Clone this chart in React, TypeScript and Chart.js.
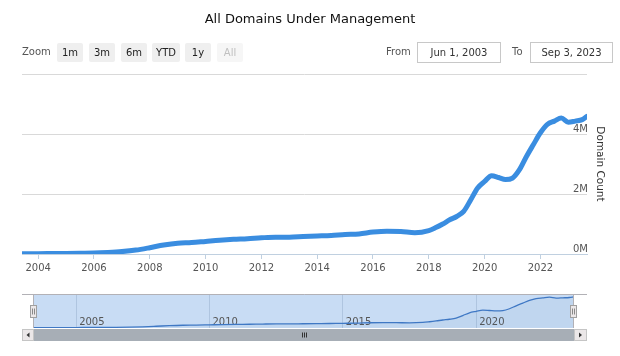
import React, { useEffect, useRef } from 'react';
import { Chart, registerables } from 'chart.js';

Chart.register(...registerables);

// ---------- data ----------
const chartTitle = 'All Domains Under Management';
const yAxisTitle = 'Domain Count';
const zoomLabel = 'Zoom';
const zoomButtons = ['1m', '3m', '6m', 'YTD', '1y', 'All'];
const fromLabel = 'From';
const toLabel = 'To';
const fromDate = 'Jun 1, 2003';
const toDate = 'Sep 3, 2023';

const xMinYear = 2003.42; // Jun 1, 2003
const xMaxYear = 2023.67; // Sep 3, 2023

const years = [
  2003.42, 2004, 2004.5, 2005, 2005.5, 2006, 2006.5, 2007, 2007.5, 2008, 2008.5, 2009, 2009.5,
  2010, 2010.5, 2011, 2011.5, 2012, 2012.5, 2013, 2013.5, 2014, 2014.5, 2015, 2015.5, 2016,
  2016.5, 2017, 2017.5, 2018, 2018.25, 2018.5, 2018.75, 2019, 2019.25, 2019.5, 2019.75, 2020,
  2020.25, 2020.5, 2020.75, 2021, 2021.25, 2021.5, 2021.75, 2022, 2022.25, 2022.5, 2022.75,
  2023, 2023.25, 2023.5, 2023.67,
];
// domain count, in millions
const domainCountsM = [
  0.01, 0.01, 0.015, 0.02, 0.025, 0.03, 0.05, 0.08, 0.13, 0.21, 0.3, 0.36, 0.38,
  0.42, 0.46, 0.49, 0.51, 0.54, 0.56, 0.56, 0.58, 0.6, 0.62, 0.65, 0.67, 0.73,
  0.76, 0.75, 0.71, 0.78, 0.88, 1.0, 1.14, 1.25, 1.42, 1.8, 2.2, 2.42,
  2.61, 2.55, 2.48, 2.53, 2.81, 3.25, 3.65, 4.04, 4.32, 4.43, 4.53,
  4.39, 4.43, 4.48, 4.59,
];

const mainXTicks = [2004, 2006, 2008, 2010, 2012, 2014, 2016, 2018, 2020, 2022];
const mainYTicksM = [0, 2, 4, 6];
const navXTicks = [2005, 2010, 2015, 2020];

// ---------- styles ----------
const FONT = '"DejaVu Sans", sans-serif';
const LINE_COLOR = '#3a8de0';
const NAV_LINE = '#3f78c4';
const MASK_FILL = '#c8dcf4';
const TEXT = '#555';

const points = () => years.map((x, i) => ({ x, y: domainCountsM[i] }));

const navDecor = {
  id: 'navDecor',
  beforeDraw(chart: any) {
    const { ctx, chartArea: a } = chart;
    ctx.save();
    ctx.fillStyle = MASK_FILL;
    ctx.fillRect(a.left, a.top, a.right - a.left, a.bottom - a.top);
    ctx.restore();
  },
  beforeDatasetsDraw(chart: any) {
    const { ctx, chartArea: a, scales } = chart;
    ctx.save();
    ctx.fillStyle = '#555';
    ctx.font = `10px ${FONT}`;
    ctx.textAlign = 'left';
    ctx.textBaseline = 'middle';
    navXTicks.forEach((v) => {
      const x = scales.x.getPixelForValue(v);
      ctx.fillText(String(v), x + 3, a.bottom - 6);
    });
    ctx.restore();
  },
  afterDraw(chart: any) {
    const { ctx, chartArea: a } = chart;
    const L = a.left - 12;
    const R = a.right + 13;
    ctx.save();
    ctx.strokeStyle = '#b2b1b6';
    ctx.lineWidth = 1;
    ctx.beginPath();
    ctx.moveTo(L, a.top + 0.5);
    ctx.lineTo(R, a.top + 0.5);
    ctx.stroke();
    [a.left, a.right].forEach((x: number) => {
      ctx.beginPath();
      ctx.moveTo(Math.round(x) - 0.5, a.top);
      ctx.lineTo(Math.round(x) - 0.5, a.bottom);
      ctx.stroke();
    });
    // scrollbar
    const sy = a.bottom + 1;
    const sh = 12;
    ctx.fillStyle = '#a7aeb6';
    ctx.fillRect(a.left, sy, a.right - a.left, sh);
    ctx.fillStyle = '#ebe7e8';
    ctx.strokeStyle = '#c5c5c5';
    ctx.fillRect(L, sy, a.left - L, sh);
    ctx.strokeRect(L + 0.5, sy + 0.5, a.left - L - 1, sh - 1);
    ctx.fillRect(a.right, sy, R - a.right, sh);
    ctx.strokeRect(a.right + 0.5, sy + 0.5, R - a.right - 1, sh - 1);
    ctx.fillStyle = '#333';
    const cyy = sy + sh / 2;
    let cx = (L + a.left) / 2;
    ctx.beginPath();
    ctx.moveTo(cx - 1.5, cyy);
    ctx.lineTo(cx + 1.5, cyy - 2.5);
    ctx.lineTo(cx + 1.5, cyy + 2.5);
    ctx.closePath();
    ctx.fill();
    cx = (a.right + R) / 2;
    ctx.beginPath();
    ctx.moveTo(cx + 1.5, cyy);
    ctx.lineTo(cx - 1.5, cyy - 2.5);
    ctx.lineTo(cx - 1.5, cyy + 2.5);
    ctx.closePath();
    ctx.fill();
    // rifles
    const mid = Math.round((a.left + a.right) / 2);
    ctx.strokeStyle = '#333';
    [-2, 0, 2].forEach((d) => {
      ctx.beginPath();
      ctx.moveTo(mid + d + 0.5, cyy - 2.5);
      ctx.lineTo(mid + d + 0.5, cyy + 2.5);
      ctx.stroke();
    });
    // handles
    [a.left, a.right].forEach((x: number) => {
      const hx = Math.round(x) - 4;
      const hy = a.top + 11;
      ctx.fillStyle = '#ebe7e8';
      ctx.strokeStyle = '#a0a0a0';
      ctx.fillRect(hx, hy, 7, 13);
      ctx.strokeRect(hx + 0.5, hy + 0.5, 6, 12);
      ctx.strokeStyle = '#888';
      [2, 4].forEach((d) => {
        ctx.beginPath();
        ctx.moveTo(hx + d + 0.5, hy + 3.5);
        ctx.lineTo(hx + d + 0.5, hy + 9.5);
        ctx.stroke();
      });
    });
    ctx.restore();
  },
};

function MainChart() {
  const ref = useRef<HTMLCanvasElement>(null);
  useEffect(() => {
    const chart = new Chart(ref.current as HTMLCanvasElement, {
      type: 'line',
      data: {
        datasets: [
          {
            data: points(),
            borderColor: LINE_COLOR,
            borderWidth: 5,
            pointRadius: 0,
            cubicInterpolationMode: 'monotone',
            borderCapStyle: 'round',
            borderJoinStyle: 'round',
            fill: false,
          } as any,
        ],
      },
      options: {
        animation: false,
        responsive: false,
        maintainAspectRatio: false,
        layout: { padding: { left: 22, top: 74, right: 0, bottom: 0 } },
        plugins: { legend: { display: false }, tooltip: { enabled: false }, title: { display: false } },
        scales: {
          x: {
            type: 'linear',
            min: xMinYear,
            max: xMaxYear,
            afterBuildTicks: (s: any) => {
              s.ticks = mainXTicks.map((v) => ({ value: v }));
            },
            afterFit: (s: any) => {
              s.height = 36;
            },
            grid: { drawOnChartArea: false, drawTicks: true, tickLength: 5, color: '#c0d0e0' },
            border: { color: '#c0d0e0', width: 1 },
            ticks: {
              padding: 3,
              color: TEXT,
              font: { family: FONT, size: 10 },
              maxRotation: 0,
              autoSkip: false,
              callback: (v: any) => String(v),
            },
          },
          y: {
            position: 'right',
            min: 0,
            max: 6,
            afterBuildTicks: (s: any) => {
              s.ticks = mainYTicksM.map((v) => ({ value: v }));
            },
            afterFit: (s: any) => {
              s.width = 33;
            },
            grid: {
              drawTicks: false,
              lineWidth: 1,
              color: (c: any) => (c.tick && c.tick.value === 0 ? 'rgba(0,0,0,0)' : '#d9d9d9'),
            },
            border: { display: false },
            ticks: {
              mirror: true,
              padding: 1,
              labelOffset: -5,
              color: TEXT,
              font: { family: FONT, size: 10 },
              callback: (v: any) => (v === 6 ? '' : `${v}M`),
            },
            title: {
              display: true,
              text: yAxisTitle,
              color: '#333',
              font: { family: FONT, size: 10.5 },
              padding: { top: 14, bottom: 0 },
            },
          },
        },
      } as any,
    });
    return () => chart.destroy();
  }, []);
  return <canvas ref={ref} width={620} height={290} style={{ position: 'absolute', left: 0, top: 0, display: 'block' }} />;
}

function Navigator() {
  const ref = useRef<HTMLCanvasElement>(null);
  useEffect(() => {
    const chart = new Chart(ref.current as HTMLCanvasElement, {
      type: 'line',
      data: {
        datasets: [
          {
            data: points(),
            borderColor: NAV_LINE,
            borderWidth: 1.3,
            pointRadius: 0,
            cubicInterpolationMode: 'monotone',
            fill: 'origin',
            backgroundColor: 'rgba(69,114,167,0.06)',
          } as any,
        ],
      },
      options: {
        animation: false,
        responsive: false,
        maintainAspectRatio: false,
        layout: { padding: { left: 34, right: 46, top: 6, bottom: 0 } },
        plugins: { legend: { display: false }, tooltip: { enabled: false }, filler: { propagate: false } },
        scales: {
          x: {
            type: 'linear',
            min: xMinYear,
            max: xMaxYear,
            afterBuildTicks: (s: any) => {
              s.ticks = navXTicks.map((v) => ({ value: v }));
            },
            afterFit: (s: any) => {
              s.height = 20;
            },
            grid: { drawOnChartArea: true, drawTicks: false, color: 'rgba(120,145,180,0.3)' },
            border: { display: false },
            ticks: { display: false },
          },
          y: { display: false, min: -0.05, max: 5.0 },
        },
      } as any,
      plugins: [navDecor],
    });
    return () => chart.destroy();
  }, []);
  return <canvas ref={ref} width={620} height={60} style={{ position: 'absolute', left: 0, top: 288, display: 'block' }} />;
}

const btnLeft = [57, 89, 121, 152, 185, 217];
const btnWidth = [26, 26, 26, 28, 26, 26];

export default function App() {
  return (
    <div
      style={{
        position: 'fixed',
        left: 0,
        top: 0,
        width: 620,
        height: 356,
        background: '#fff',
        fontFamily: FONT,
        overflow: 'hidden',
      }}
    >
      <MainChart />
      <Navigator />
      <div
        style={{
          position: 'absolute',
          left: 0,
          top: 11,
          width: 620,
          textAlign: 'center',
          fontSize: 13,
          lineHeight: '16px',
          color: '#111',
        }}
      >
        {chartTitle}
      </div>
      <div style={{ position: 'absolute', left: 22, top: 45, fontSize: 10, lineHeight: '14px', color: '#555' }}>{zoomLabel}</div>
      {zoomButtons.map((b, i) => (
        <div
          key={b}
          style={{
            position: 'absolute',
            left: btnLeft[i],
            top: 43,
            width: btnWidth[i],
            height: 19,
            lineHeight: '19px',
            textAlign: 'center',
            fontSize: 10,
            background: b === 'All' ? '#f6f6f6' : '#efefef',
            color: b === 'All' ? '#c0c0c0' : '#222',
            borderRadius: 2,
          }}
        >
          {b}
        </div>
      ))}
      <div style={{ position: 'absolute', left: 386, top: 45, fontSize: 10, lineHeight: '14px', color: '#555' }}>{fromLabel}</div>
      <div
        style={{
          position: 'absolute',
          left: 417,
          top: 42,
          width: 82,
          height: 19,
          border: '1px solid #c8c8c8',
          textAlign: 'center',
          lineHeight: '19px',
          fontSize: 10,
          color: '#333',
        }}
      >
        {fromDate}
      </div>
      <div style={{ position: 'absolute', left: 512, top: 45, fontSize: 10, lineHeight: '14px', color: '#555' }}>{toLabel}</div>
      <div
        style={{
          position: 'absolute',
          left: 530,
          top: 42,
          width: 81,
          height: 19,
          border: '1px solid #c8c8c8',
          textAlign: 'center',
          lineHeight: '19px',
          fontSize: 10,
          color: '#333',
        }}
      >
        {toDate}
      </div>
    </div>
  );
}
